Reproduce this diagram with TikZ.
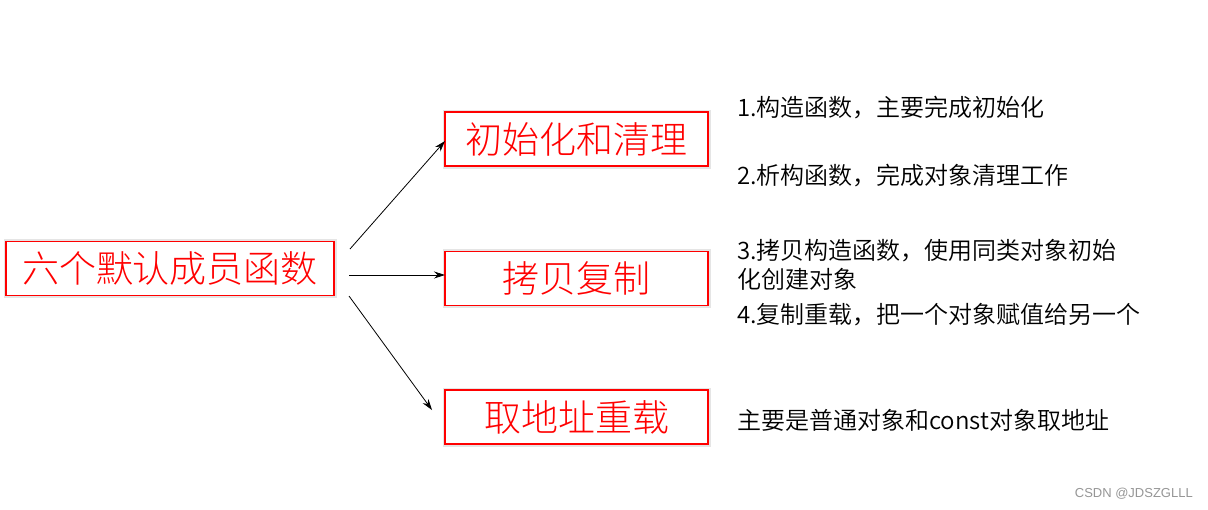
\documentclass[tikz,border=0pt]{standalone}
\usepackage{fontspec}
\setmainfont{Liberation Sans}
\newfontfamily\cjk{Noto Sans CJK SC}
\newfontfamily\cjkl{Noto Sans CJK SC Light}
\newfontfamily\cjkd{Noto Sans CJK SC DemiLight}
\usetikzlibrary{arrows.meta}
\definecolor{boxred}{RGB}{255,0,0}
\definecolor{wmgray}{RGB}{150,150,150}
\tikzset{
  redbox/.style={draw=boxred, line width=1.3pt, fill=white, text=boxred,
    inner sep=0pt, minimum height=54pt,
    font=\cjkl\fontsize{37}{40}\selectfont,
    preaction={draw=black!10, line width=5pt}},
  desc/.style={anchor=west, inner sep=0pt, align=left, text=black,
    font=\cjkd\fontsize{24}{29}\selectfont},
  arr/.style={draw=black, line width=0.8pt, -{Stealth[length=11pt,width=7pt]}},
}
\begin{document}
\begin{tikzpicture}[x=1pt, y=-1pt]
\useasboundingbox (0,0) rectangle (1208,509);
\fill[white] (0,0) rectangle (1208,509);

\node[redbox, minimum width=328pt] (main) at (170,268.5) {六个默认成员函数};
\node[redbox, minimum width=263pt] (b1) at (576.5,139) {初始化和清理};
\node[redbox, minimum width=263pt] (b2) at (576.5,278.5) {拷贝复制};
\node[redbox, minimum width=263pt] (b3) at (576.5,417) {取地址重载};

\coordinate (s1) at (350,249);
\coordinate (s2) at (349,275);
\coordinate (s3) at (349,296);
\coordinate (e1) at (445,141);
\coordinate (e2) at (445,275);
\coordinate (e3) at (432,410);
\draw[arr] (s1) -- (e1);
\draw[arr] (s2) -- (e2);
\draw[arr] (s3) -- (e3);

\node[desc] (t1) at (737,108) {1.构造函数，主要完成初始化};
\node[desc] (t2) at (737,176) {2.析构函数，完成对象清理工作};
\node[desc] (t3) at (737,264.5) {3.拷贝构造函数，使用同类对象初始\\化创建对象};
\node[desc] (t4) at (737,315) {4.复制重载，把一个对象赋值给另一个};
\node[desc] (t5) at (737,420) {主要是普通对象和const对象取地址};

\node[anchor=east, inner sep=0pt, text=wmgray, font=\fontsize{13}{15}\selectfont] (wm) at (1193,494) {CSDN @JDSZGLLL};
\end{tikzpicture}
\end{document}
